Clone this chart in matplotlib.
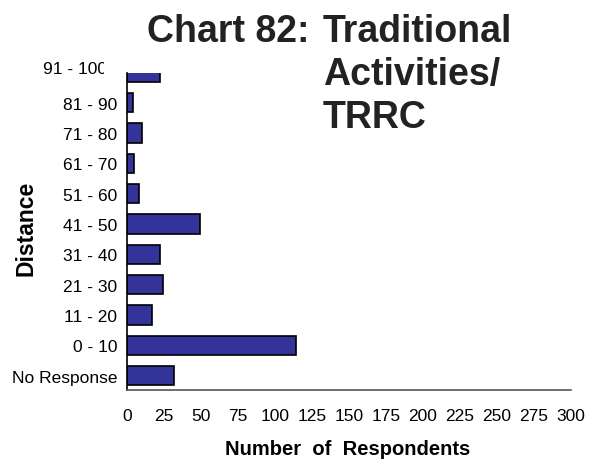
import matplotlib
matplotlib.use('Agg')
from matplotlib import pyplot as plt
from matplotlib.transforms import Bbox

plt.rcParams['font.family'] = ['Liberation Sans', 'DejaVu Sans']

# Distance categories, bottom to top
distances = ['No Response', '0 - 10', '11 - 20', '21 - 30', '31 - 40',
             '41 - 50', '51 - 60', '61 - 70', '71 - 80', '81 - 90', '91 - 100']
respondents = [32, 114, 17, 24, 22, 49, 8, 5, 10, 4, 22]
x_ticks = [0, 25, 50, 75, 100, 125, 150, 175, 200, 225, 250, 275, 300]

W, H = 589, 460
fig = plt.figure(figsize=(W / 100, H / 100), dpi=100)
ax = fig.add_axes([127 / W, 69 / H, 444 / W, 317 / H])

pos = list(range(len(distances)))
ax.barh(pos, respondents, height=0.635, color='#333399',
        edgecolor='black', linewidth=1.2)

ax.set_xlim(0, 300)
ax.set_ylim(-0.47, 9.98)
ax.set_xticks(x_ticks)
ax.set_xticklabels([str(t) for t in x_ticks], fontsize=12.5)
ax.set_yticks(pos[:-1])
ax.set_yticklabels(distances[:-1], fontsize=12.5)
ax.tick_params(axis='x', length=0, pad=13)
ax.tick_params(axis='y', length=0, pad=7)

for s in ['top', 'right']:
    ax.spines[s].set_visible(False)
ax.spines['left'].set_color('black')
ax.spines['left'].set_linewidth(1.2)
ax.spines['bottom'].set_color('#555555')
ax.spines['bottom'].set_linewidth(1.2)

# top category label sits above the plot and gets cut off on the right
top_lab = ax.text(-84 / 444, pos[-1] + 0.12, distances[-1], fontsize=12.5,
                  ha='left', va='center', transform=ax.get_yaxis_transform())
top_lab.set_clip_box(Bbox.from_extents(0, 0, 104, H))
top_lab.set_clip_on(True)

fig.text(348 / W, 5 / H, 'Number  of  Respondents', fontsize=14.5,
         fontweight='bold', ha='center', va='baseline')
fig.text(26 / W, (H - 228) / H, 'Distance', fontsize=16.5, fontweight='bold',
         rotation=90, ha='center', va='center')

# title, three lines
fig.text(147 / W, (H - 42) / H, 'Chart 82:', fontsize=27,
         fontweight='bold', ha='left', va='baseline', color='#222222')
for i, line in enumerate(['Traditional', 'Activities/', 'TRRC']):
    fig.text(323 / W, (H - 42 - 43 * i) / H, line, fontsize=27,
             fontweight='bold', ha='left', va='baseline', color='#222222')

plt.savefig('out.png', dpi=100)
